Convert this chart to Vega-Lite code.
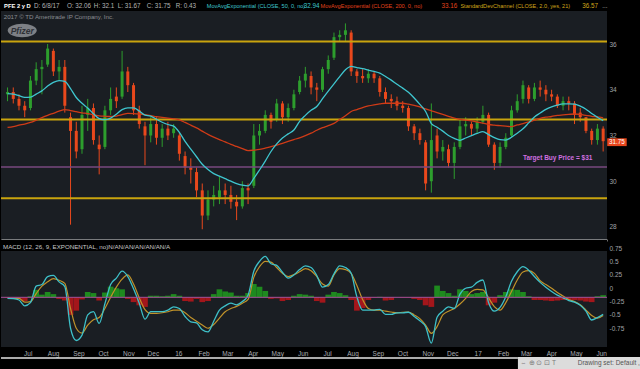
{
"$schema":"https://vega.github.io/schema/vega-lite/v6.json",
"background":"#000000",
"padding":0,
"autosize":{"type":"pad"},
"spacing":0,
"bounds":"flush",
"config":{"view":{"stroke":null},"font":"Liberation Sans","axis":{"labelFont":"Liberation Sans","labelOverlap":false},"text":{"font":"Liberation Sans"},"scale":{"continuousPadding":0}},
"resolve":{"scale":{"x":"independent","y":"independent"}},
"datasets":{
"header":[
{"d":"2015-06-05T17:00:00Z","t":"PFE 2 y D","g":"sym"},
{"d":"2015-07-12T07:00:00Z","t":"D: 6/8/17","g":"info"},
{"d":"2015-08-21T14:00:00Z","t":"O: 32.06","g":"info"},
{"d":"2015-09-23T12:00:00Z","t":"H: 32.1","g":"info"},
{"d":"2015-10-22T19:00:00Z","t":"L: 31.67","g":"info"},
{"d":"2015-11-27T05:00:00Z","t":"C: 31.75","g":"info"},
{"d":"2016-01-01T14:00:00Z","t":"R: 0.43","g":"info"},
{"d":"2016-02-08T12:00:00Z","t":"MovAvgExponential (CLOSE, 50, 0, no)","g":"ema50","long":true},
{"d":"2016-06-05T22:00:00Z","t":"32.94","g":"ema50"},
{"d":"2016-06-26T14:00:00Z","t":"MovAvgExponential (CLOSE, 200, 0, no)","g":"ema200","long":true},
{"d":"2016-11-21T07:00:00Z","t":"33.16","g":"ema200"},
{"d":"2016-12-14T12:00:00Z","t":"StandardDevChannel (CLOSE, 2.0, yes, 21)","g":"sdc","long":true},
{"d":"2017-05-12T10:00:00Z","t":"36.57","g":"sdc"},
{"d":"2017-06-05T22:00:00Z","t":"...","g":"info"}
],
"levels":[{"v":36.11},{"v":32.7},{"v":29.26}],
"target":[{"v":30.62}],
"notes":[{"d":"2017-03-01T00:00:00Z","p":31,"t":"Target Buy Price = $31"}],
"copyright":[{"d":"2015-06-05T07:00:00Z","p":37.17,"t":"2017 © TD Ameritrade IP Company, Inc."}],
"logo":[{"d":"2015-06-27T22:00:00Z","p":36.59,"t":"Pfizer"}],
"last":[{"d":"2017-06-08T00:00:00Z","p":31.75,"t":"31.75"}],
"macdTitle":[{"d":"2015-06-04T12:00:00Z","t":"MACD (12, 26, 9, EXPONENTIAL, no)N/AN/AN/AN/AN/AN/A"}],
"zero":[{"z":0}],
"footer":[{"t":"Drawing set: Default ,","i":"⇔  ⊕  ⊙  ⊡   T"}],
"pfe":[
{"d":"2015-06-10","o":33.8,"h":34.1,"l":33.5,"c":33.9,"e50":33.83,"e200":32.35,"m":-0.02,"s":-0.01,"hd":-0.01},
{"d":"2015-06-17","o":33.9,"h":34.1,"l":33.4,"c":33.6,"e50":33.81,"e200":32.39,"m":-0.025,"s":-0.02,"hd":-0.01},
{"d":"2015-06-24","o":33.6,"h":33.8,"l":33.1,"c":33.3,"e50":33.74,"e200":32.45,"m":-0.05,"s":-0.02,"hd":-0.03},
{"d":"2015-07-01","o":33.3,"h":33.5,"l":32.8,"c":33.1,"e50":33.67,"e200":32.5,"m":-0.16,"s":-0.09,"hd":-0.07},
{"d":"2015-07-08","o":33.2,"h":34.6,"l":33.1,"c":34.4,"e50":33.68,"e200":32.57,"m":-0.1,"s":-0.08,"hd":0.02},
{"d":"2015-07-15","o":34.4,"h":35.2,"l":34.2,"c":34.9,"e50":33.81,"e200":32.67,"m":0.21,"s":0.07,"hd":0.14},
{"d":"2015-07-22","o":34.9,"h":35.3,"l":33.8,"c":35.0,"e50":33.95,"e200":32.78,"m":0.24,"s":0.21,"hd":0.05},
{"d":"2015-07-29","o":35.1,"h":36.0,"l":35.0,"c":35.8,"e50":34.16,"e200":32.88,"m":0.39,"s":0.29,"hd":0.1},
{"d":"2015-08-05","o":35.7,"h":35.8,"l":34.6,"c":34.8,"e50":34.32,"e200":32.97,"m":0.41,"s":0.35,"hd":0.06},
{"d":"2015-08-12","o":34.8,"h":35.3,"l":34.4,"c":35.0,"e50":34.4,"e200":33.06,"m":0.29,"s":0.32,"hd":-0.03},
{"d":"2015-08-19","o":35.0,"h":35.3,"l":33.0,"c":33.3,"e50":34.37,"e200":33.13,"m":0.2,"s":0.26,"hd":-0.06},
{"d":"2015-08-26","o":32.8,"h":33.0,"l":28.1,"c":32.2,"e50":34.05,"e200":33.09,"m":-0.58,"s":-0.21,"hd":-0.33},
{"d":"2015-09-02","o":32.2,"h":32.6,"l":31.0,"c":31.3,"e50":33.66,"e200":33.04,"m":-0.81,"s":-0.58,"hd":-0.25},
{"d":"2015-09-09","o":31.4,"h":33.3,"l":31.2,"c":32.9,"e50":33.41,"e200":32.99,"m":-0.71,"s":-0.67,"hd":-0.04},
{"d":"2015-09-16","o":32.9,"h":33.6,"l":32.2,"c":33.2,"e50":33.2,"e200":32.96,"m":-0.33,"s":-0.52,"hd":0.1},
{"d":"2015-09-23","o":33.2,"h":33.4,"l":31.6,"c":31.8,"e50":32.95,"e200":32.91,"m":-0.27,"s":-0.42,"hd":0.08},
{"d":"2015-09-30","o":31.6,"h":32.0,"l":30.3,"c":31.4,"e50":32.74,"e200":32.86,"m":-0.49,"s":-0.38,"hd":-0.06},
{"d":"2015-10-07","o":31.5,"h":33.3,"l":31.4,"c":33.1,"e50":32.69,"e200":32.84,"m":-0.12,"s":-0.21,"hd":0.09},
{"d":"2015-10-14","o":33.1,"h":34.1,"l":32.9,"c":33.6,"e50":32.76,"e200":32.83,"m":0.24,"s":0.0,"hd":0.2},
{"d":"2015-10-21","o":33.7,"h":34.1,"l":33.2,"c":33.5,"e50":32.93,"e200":32.85,"m":0.36,"s":0.19,"hd":0.17},
{"d":"2015-10-28","o":33.7,"h":35.7,"l":33.6,"c":34.8,"e50":33.13,"e200":32.91,"m":0.49,"s":0.34,"hd":0.15},
{"d":"2015-11-04","o":34.8,"h":35.0,"l":33.9,"c":34.2,"e50":33.21,"e200":32.97,"m":0.39,"s":0.42,"hd":-0.03},
{"d":"2015-11-11","o":34.2,"h":34.3,"l":32.9,"c":33.1,"e50":33.21,"e200":32.96,"m":0.16,"s":0.25,"hd":-0.09},
{"d":"2015-11-18","o":33.1,"h":33.3,"l":32.3,"c":32.5,"e50":33.07,"e200":32.94,"m":-0.11,"s":-0.01,"hd":-0.15},
{"d":"2015-11-25","o":32.4,"h":32.6,"l":30.7,"c":32.0,"e50":32.89,"e200":32.91,"m":-0.41,"s":-0.23,"hd":-0.18},
{"d":"2015-12-02","o":32.0,"h":32.8,"l":31.7,"c":32.5,"e50":32.85,"e200":32.87,"m":-0.27,"s":-0.3,"hd":0.03},
{"d":"2015-12-09","o":32.5,"h":32.8,"l":31.6,"c":31.9,"e50":32.71,"e200":32.82,"m":-0.27,"s":-0.3,"hd":0.03},
{"d":"2015-12-16","o":31.9,"h":32.5,"l":31.5,"c":32.3,"e50":32.58,"e200":32.79,"m":-0.27,"s":-0.29,"hd":0.02},
{"d":"2015-12-23","o":32.3,"h":32.6,"l":31.8,"c":32.0,"e50":32.48,"e200":32.76,"m":-0.24,"s":-0.27,"hd":0.03},
{"d":"2015-12-30","o":32.1,"h":32.5,"l":31.9,"c":32.3,"e50":32.41,"e200":32.73,"m":-0.18,"s":-0.24,"hd":0.06},
{"d":"2016-01-06","o":32.0,"h":32.1,"l":30.9,"c":31.2,"e50":32.14,"e200":32.68,"m":-0.21,"s":-0.24,"hd":0.03},
{"d":"2016-01-13","o":31.1,"h":31.3,"l":30.3,"c":30.6,"e50":31.74,"e200":32.57,"m":-0.36,"s":-0.29,"hd":-0.07},
{"d":"2016-01-20","o":30.6,"h":31.0,"l":29.9,"c":30.5,"e50":31.4,"e200":32.45,"m":-0.46,"s":-0.38,"hd":-0.08},
{"d":"2016-01-27","o":30.4,"h":30.6,"l":29.3,"c":29.6,"e50":31.07,"e200":32.33,"m":-0.48,"s":-0.45,"hd":-0.03},
{"d":"2016-02-03","o":29.6,"h":29.9,"l":27.9,"c":28.5,"e50":30.74,"e200":32.19,"m":-0.61,"s":-0.52,"hd":-0.09},
{"d":"2016-02-10","o":28.5,"h":29.6,"l":28.3,"c":29.2,"e50":30.51,"e200":32.05,"m":-0.65,"s":-0.58,"hd":-0.07},
{"d":"2016-02-17","o":29.2,"h":29.8,"l":28.9,"c":29.4,"e50":30.33,"e200":31.93,"m":-0.45,"s":-0.51,"hd":0.06},
{"d":"2016-02-24","o":29.3,"h":30.2,"l":29.0,"c":29.6,"e50":30.22,"e200":31.82,"m":-0.24,"s":-0.39,"hd":0.15},
{"d":"2016-03-02","o":29.6,"h":29.9,"l":29.0,"c":29.4,"e50":30.11,"e200":31.72,"m":-0.16,"s":-0.27,"hd":0.11},
{"d":"2016-03-09","o":29.4,"h":29.8,"l":28.8,"c":29.1,"e50":30.0,"e200":31.61,"m":-0.11,"s":-0.21,"hd":0.09},
{"d":"2016-03-16","o":29.1,"h":29.4,"l":28.3,"c":28.9,"e50":29.9,"e200":31.52,"m":-0.14,"s":-0.17,"hd":0.03},
{"d":"2016-03-23","o":28.9,"h":30.0,"l":28.8,"c":29.7,"e50":29.83,"e200":31.43,"m":-0.08,"s":-0.11,"hd":0.03},
{"d":"2016-03-30","o":29.7,"h":29.9,"l":29.0,"c":29.6,"e50":29.8,"e200":31.34,"m":0.04,"s":-0.04,"hd":0.08},
{"d":"2016-04-06","o":29.8,"h":32.5,"l":29.7,"c":32.0,"e50":30.12,"e200":31.36,"m":0.49,"s":0.375,"hd":0.25},
{"d":"2016-04-13","o":32.0,"h":32.5,"l":31.6,"c":32.2,"e50":30.49,"e200":31.39,"m":0.675,"s":0.575,"hd":0.2},
{"d":"2016-04-20","o":32.2,"h":33.1,"l":32.1,"c":32.9,"e50":30.88,"e200":31.45,"m":0.77,"s":0.675,"hd":0.12},
{"d":"2016-04-27","o":32.9,"h":33.0,"l":32.3,"c":32.6,"e50":31.3,"e200":31.51,"m":0.63,"s":0.66,"hd":-0.03},
{"d":"2016-05-04","o":32.7,"h":33.6,"l":32.6,"c":33.4,"e50":31.63,"e200":31.58,"m":0.6,"s":0.56,"hd":-0.02},
{"d":"2016-05-11","o":33.4,"h":33.5,"l":32.5,"c":32.8,"e50":31.89,"e200":31.66,"m":0.47,"s":0.45,"hd":-0.07},
{"d":"2016-05-18","o":32.8,"h":33.4,"l":32.6,"c":33.2,"e50":32.07,"e200":31.74,"m":0.36,"s":0.39,"hd":-0.05},
{"d":"2016-05-25","o":33.2,"h":34.0,"l":33.1,"c":33.8,"e50":32.24,"e200":31.82,"m":0.42,"s":0.425,"hd":0.03},
{"d":"2016-06-01","o":33.9,"h":34.6,"l":33.8,"c":34.4,"e50":32.62,"e200":31.9,"m":0.52,"s":0.48,"hd":0.06},
{"d":"2016-06-08","o":34.4,"h":35.0,"l":34.1,"c":34.7,"e50":32.88,"e200":31.99,"m":0.59,"s":0.54,"hd":0.05},
{"d":"2016-06-15","o":34.6,"h":34.8,"l":33.8,"c":34.1,"e50":33.1,"e200":32.1,"m":0.56,"s":0.5,"hd":0.03},
{"d":"2016-06-22","o":34.1,"h":34.3,"l":33.5,"c":34.0,"e50":33.27,"e200":32.23,"m":0.41,"s":0.39,"hd":-0.07},
{"d":"2016-06-29","o":34.0,"h":35.0,"l":33.9,"c":34.9,"e50":33.61,"e200":32.34,"m":0.19,"s":0.25,"hd":-0.1},
{"d":"2016-07-06","o":34.9,"h":35.5,"l":34.7,"c":35.3,"e50":33.94,"e200":32.43,"m":0.24,"s":0.21,"hd":0.05},
{"d":"2016-07-13","o":35.4,"h":36.5,"l":35.3,"c":36.3,"e50":34.26,"e200":32.53,"m":0.44,"s":0.42,"hd":0.1},
{"d":"2016-07-20","o":36.3,"h":36.6,"l":36.1,"c":36.4,"e50":34.57,"e200":32.7,"m":0.59,"s":0.54,"hd":0.08},
{"d":"2016-07-27","o":36.4,"h":36.9,"l":36.1,"c":36.6,"e50":34.87,"e200":32.86,"m":0.56,"s":0.52,"hd":0.04},
{"d":"2016-08-03","o":36.5,"h":36.6,"l":34.6,"c":34.8,"e50":35.02,"e200":33.05,"m":0.45,"s":0.45,"hd":-0.05},
{"d":"2016-08-10","o":34.8,"h":34.9,"l":34.3,"c":34.6,"e50":34.97,"e200":33.13,"m":0.01,"s":0.22,"hd":-0.25},
{"d":"2016-08-17","o":34.6,"h":34.9,"l":34.3,"c":34.5,"e50":34.92,"e200":33.22,"m":-0.24,"s":-0.04,"hd":-0.2},
{"d":"2016-08-24","o":34.5,"h":34.9,"l":34.3,"c":34.7,"e50":34.86,"e200":33.29,"m":-0.24,"s":-0.21,"hd":-0.05},
{"d":"2016-08-31","o":34.7,"h":34.8,"l":34.3,"c":34.5,"e50":34.8,"e200":33.34,"m":-0.24,"s":-0.24,"hd":-0.01},
{"d":"2016-09-07","o":34.5,"h":34.6,"l":33.7,"c":33.9,"e50":34.73,"e200":33.38,"m":-0.225,"s":-0.24,"hd":0.01},
{"d":"2016-09-14","o":33.9,"h":34.1,"l":33.4,"c":33.6,"e50":34.58,"e200":33.41,"m":-0.32,"s":-0.26,"hd":-0.06},
{"d":"2016-09-21","o":33.6,"h":33.8,"l":33.2,"c":33.5,"e50":34.42,"e200":33.41,"m":-0.32,"s":-0.275,"hd":-0.05},
{"d":"2016-09-28","o":33.5,"h":33.7,"l":33.1,"c":33.3,"e50":34.24,"e200":33.41,"m":-0.29,"s":-0.29,"hd":0.0},
{"d":"2016-10-05","o":33.3,"h":33.5,"l":33.0,"c":33.2,"e50":34.07,"e200":33.41,"m":-0.29,"s":-0.28,"hd":-0.01},
{"d":"2016-10-12","o":33.2,"h":33.3,"l":32.2,"c":32.4,"e50":33.89,"e200":33.37,"m":-0.28,"s":-0.275,"hd":-0.01},
{"d":"2016-10-19","o":32.4,"h":32.5,"l":31.8,"c":32.1,"e50":33.64,"e200":33.32,"m":-0.36,"s":-0.33,"hd":-0.03},
{"d":"2016-10-26","o":32.1,"h":32.3,"l":31.6,"c":31.8,"e50":33.36,"e200":33.25,"m":-0.44,"s":-0.4,"hd":-0.05},
{"d":"2016-11-02","o":31.7,"h":31.8,"l":29.6,"c":29.9,"e50":33.05,"e200":33.16,"m":-0.55,"s":-0.52,"hd":-0.15},
{"d":"2016-11-09","o":30.0,"h":33.4,"l":29.5,"c":31.8,"e50":32.52,"e200":33.08,"m":-0.86,"s":-0.675,"hd":-0.18},
{"d":"2016-11-16","o":32.0,"h":32.3,"l":31.0,"c":31.3,"e50":32.36,"e200":33.0,"m":-0.375,"s":-0.55,"hd":0.22},
{"d":"2016-11-23","o":31.3,"h":31.8,"l":30.9,"c":31.5,"e50":32.19,"e200":32.92,"m":-0.26,"s":-0.33,"hd":0.12},
{"d":"2016-11-30","o":31.4,"h":31.6,"l":30.6,"c":30.8,"e50":32.0,"e200":32.84,"m":-0.18,"s":-0.26,"hd":0.08},
{"d":"2016-12-07","o":30.8,"h":31.7,"l":30.1,"c":31.5,"e50":31.87,"e200":32.76,"m":-0.21,"s":-0.21,"hd":0.03},
{"d":"2016-12-14","o":31.5,"h":32.7,"l":31.4,"c":32.4,"e50":31.79,"e200":32.7,"m":0.06,"s":-0.125,"hd":0.15},
{"d":"2016-12-21","o":32.4,"h":32.8,"l":32.0,"c":32.5,"e50":31.89,"e200":32.67,"m":0.17,"s":-0.02,"hd":0.12},
{"d":"2016-12-28","o":32.5,"h":32.6,"l":32.0,"c":32.3,"e50":31.99,"e200":32.64,"m":0.19,"s":0.11,"hd":0.06},
{"d":"2017-01-04","o":32.3,"h":32.8,"l":32.1,"c":32.6,"e50":32.09,"e200":32.59,"m":0.28,"s":0.15,"hd":0.08},
{"d":"2017-01-11","o":32.6,"h":33.3,"l":32.5,"c":32.9,"e50":32.17,"e200":32.54,"m":0.325,"s":0.14,"hd":0.1},
{"d":"2017-01-18","o":32.9,"h":33.0,"l":31.5,"c":31.6,"e50":32.04,"e200":32.48,"m":-0.1,"s":-0.01,"hd":-0.15},
{"d":"2017-01-25","o":31.6,"h":31.7,"l":30.5,"c":30.8,"e50":31.91,"e200":32.45,"m":-0.26,"s":-0.175,"hd":-0.1},
{"d":"2017-02-01","o":30.8,"h":31.7,"l":30.6,"c":31.5,"e50":31.82,"e200":32.43,"m":-0.19,"s":-0.24,"hd":0.04},
{"d":"2017-02-08","o":31.5,"h":32.1,"l":31.4,"c":31.9,"e50":31.8,"e200":32.41,"m":0.01,"s":-0.1,"hd":0.1},
{"d":"2017-02-15","o":32.0,"h":33.3,"l":31.9,"c":33.1,"e50":31.92,"e200":32.39,"m":0.3,"s":0.11,"hd":0.15},
{"d":"2017-02-22","o":33.1,"h":33.8,"l":33.0,"c":33.5,"e50":32.1,"e200":32.46,"m":0.48,"s":0.325,"hd":0.14},
{"d":"2017-03-01","o":33.6,"h":34.4,"l":33.4,"c":34.2,"e50":32.29,"e200":32.52,"m":0.575,"s":0.475,"hd":0.1},
{"d":"2017-03-08","o":34.1,"h":34.2,"l":33.4,"c":33.6,"e50":32.55,"e200":32.59,"m":0.51,"s":0.5,"hd":0.02},
{"d":"2017-03-15","o":33.6,"h":34.3,"l":33.5,"c":34.1,"e50":32.81,"e200":32.67,"m":0.39,"s":0.45,"hd":-0.05},
{"d":"2017-03-22","o":34.1,"h":34.4,"l":33.7,"c":34.0,"e50":32.98,"e200":32.75,"m":0.28,"s":0.31,"hd":-0.05},
{"d":"2017-03-29","o":34.0,"h":34.2,"l":33.5,"c":33.8,"e50":33.14,"e200":32.8,"m":0.19,"s":0.24,"hd":-0.06},
{"d":"2017-04-05","o":33.8,"h":34.0,"l":33.5,"c":33.7,"e50":33.25,"e200":32.83,"m":0.11,"s":0.17,"hd":-0.07},
{"d":"2017-04-12","o":33.7,"h":33.8,"l":33.2,"c":33.3,"e50":33.33,"e200":32.88,"m":0.04,"s":0.09,"hd":-0.06},
{"d":"2017-04-19","o":33.3,"h":33.7,"l":33.1,"c":33.5,"e50":33.38,"e200":32.9,"m":-0.01,"s":0.025,"hd":-0.05},
{"d":"2017-04-26","o":33.5,"h":33.7,"l":33.1,"c":33.4,"e50":33.38,"e200":32.92,"m":-0.06,"s":-0.04,"hd":-0.05},
{"d":"2017-05-03","o":33.4,"h":33.5,"l":32.5,"c":32.9,"e50":33.37,"e200":32.94,"m":-0.09,"s":-0.08,"hd":-0.05},
{"d":"2017-05-10","o":33.0,"h":33.2,"l":32.6,"c":32.8,"e50":33.28,"e200":32.92,"m":-0.15,"s":-0.14,"hd":-0.06},
{"d":"2017-05-17","o":32.8,"h":32.8,"l":32.1,"c":32.2,"e50":33.15,"e200":32.88,"m":-0.26,"s":-0.24,"hd":-0.08},
{"d":"2017-05-24","o":32.2,"h":32.3,"l":31.6,"c":31.8,"e50":32.96,"e200":32.84,"m":-0.425,"s":-0.34,"hd":-0.09},
{"d":"2017-05-31","o":31.8,"h":32.5,"l":31.6,"c":32.3,"e50":32.8,"e200":32.81,"m":-0.38,"s":-0.39,"hd":0.02},
{"d":"2017-06-07","o":32.3,"h":32.4,"l":31.3,"c":31.75,"e50":32.65,"e200":32.77,"m":-0.32,"s":-0.34,"hd":0.04}
]
},
"vconcat":[
{
"width":606,"height":11,
"view":{"fill":"#000000","stroke":null},
"data":{"name":"header"},
"encoding":{"x":{"field":"d","type":"temporal","scale":{"domain":[{"year":2015,"month":6,"date":2,"utc":true},{"year":2017,"month":6,"date":11,"hours":17,"utc":true}]},"axis":null},"text":{"field":"t"}},
"layer":[
{"transform":[{"filter":"datum.g == 'sym'"}],"mark":{"type":"text","align":"left","baseline":"middle","fontSize":5.8,"fontWeight":"bold","color":"#ffffff"}},
{"transform":[{"filter":"datum.g != 'sym' && !datum.long"}],"mark":{"type":"text","align":"left","baseline":"middle","fontSize":6.3},
 "encoding":{"color":{"field":"g","type":"nominal","legend":null,"scale":{"domain":["info","ema50","ema200","sdc"],"range":["#b4b4b4","#3fc6cf","#e0441c","#d2a61a"]}}}},
{"transform":[{"filter":"datum.long"}],"mark":{"type":"text","align":"left","baseline":"middle","fontSize":5.6},
 "encoding":{"color":{"field":"g","type":"nominal","legend":null,"scale":{"domain":["info","ema50","ema200","sdc"],"range":["#b4b4b4","#3fc6cf","#e0441c","#d2a61a"]}}}}
]
},
{
"width":606,"height":229,
"view":{"fill":"#1a1e23","stroke":null},
"layer":[
{"data":{"name":"pfe"},"mark":{"type":"rule","strokeWidth":1},
 "encoding":{
  "x":{"field":"d","type":"temporal","scale":{"padding":0,"domain":[{"year":2015,"month":6,"date":2,"utc":true},{"year":2017,"month":6,"date":11,"hours":17,"utc":true}]},"axis":{"labels":false,"ticks":false,"grid":false,"domain":true,"domainColor":"#d8d8d8","domainWidth":2,"title":null}},
  "y":{"field":"l","type":"quantitative","scale":{"padding":0,"domain":[27.43,37.443],"nice":false,"zero":false},"axis":{"orient":"right","values":[28,30,32,34,36],"ticks":false,"domain":false,"grid":false,"labelColor":"#a0a3a8","labelFontSize":6.5,"labelPadding":2,"title":null,"labelFlush":false}},
  "y2":{"field":"h"},
  "color":{"condition":{"test":"datum.c >= datum.o","value":"#2d9e2d"},"value":"#e9481c"}}},
{"data":{"name":"pfe"},"mark":{"type":"bar","size":3},
 "encoding":{
  "x":{"field":"d","type":"temporal"},
  "y":{"field":"o","type":"quantitative"},
  "y2":{"field":"c"},
  "color":{"condition":{"test":"datum.c >= datum.o","value":"#2d9e2d"},"value":"#e9481c"}}},
{"data":{"name":"levels"},"mark":{"type":"rule","color":"#c9a40e","strokeWidth":2},
 "encoding":{"y":{"field":"v","type":"quantitative"}}},
{"data":{"name":"target"},"mark":{"type":"rule","color":"#78497f","strokeWidth":1.5},
 "encoding":{"y":{"field":"v","type":"quantitative"}}},
{"data":{"name":"pfe"},"mark":{"type":"line","color":"#cf3b17","strokeWidth":1.3,"interpolate":"monotone"},
 "encoding":{"x":{"field":"d","type":"temporal"},"y":{"field":"e200","type":"quantitative"}}},
{"data":{"name":"pfe"},"mark":{"type":"line","color":"#3fc6cf","strokeWidth":1.3,"interpolate":"monotone"},
 "encoding":{"x":{"field":"d","type":"temporal"},"y":{"field":"e50","type":"quantitative"}}},
{"data":{"name":"notes"},"mark":{"type":"text","align":"left","baseline":"middle","fontSize":6.5,"fontWeight":"bold","color":"#d070e0"},
 "encoding":{"x":{"field":"d","type":"temporal"},"y":{"field":"p","type":"quantitative"},"text":{"field":"t"}}},
{"data":{"name":"copyright"},"mark":{"type":"text","align":"left","baseline":"middle","fontSize":6.2,"color":"#8a8d92"},
 "encoding":{"x":{"field":"d","type":"temporal"},"y":{"field":"p","type":"quantitative"},"text":{"field":"t"}}},
{"data":{"name":"logo"},"mark":{"type":"point","shape":"M-1,0A1,0.46,0,1,1,1,0A1,0.46,0,1,1,-1,0Z","size":841,"filled":true,"color":"#7d8085","opacity":1},
 "encoding":{"x":{"field":"d","type":"temporal"},"y":{"field":"p","type":"quantitative"}}},
{"data":{"name":"logo"},"mark":{"type":"text","align":"center","baseline":"middle","fontSize":8.5,"fontStyle":"italic","fontWeight":"bold","color":"#2e3136"},
 "encoding":{"x":{"field":"d","type":"temporal"},"y":{"field":"p","type":"quantitative"},"text":{"field":"t"}}},
{"data":{"name":"last"},"mark":{"type":"point","shape":"M-1,-0.4H1V0.4H-1Z","size":380,"filled":true,"color":"#e8461c","opacity":1,"xOffset":13,"yOffset":1},
 "encoding":{"x":{"field":"d","type":"temporal"},"y":{"field":"p","type":"quantitative"}}},
{"data":{"name":"last"},"mark":{"type":"text","align":"center","baseline":"middle","fontSize":6.3,"color":"#ffffff","dx":13,"dy":1},
 "encoding":{"x":{"field":"d","type":"temporal"},"y":{"field":"p","type":"quantitative"},"text":{"field":"t"}}}
]
},
{
"width":606,"height":11,
"view":{"fill":"#000000","stroke":null},
"data":{"name":"macdTitle"},
"mark":{"type":"text","align":"left","baseline":"middle","fontSize":6.2,"color":"#c8c8c8","dy":1.5},
"encoding":{"x":{"field":"d","type":"temporal","scale":{"domain":[{"year":2015,"month":6,"date":2,"utc":true},{"year":2017,"month":6,"date":11,"hours":17,"utc":true}]},"axis":null},"text":{"field":"t"}}
},
{
"width":606,"height":96,
"view":{"fill":"#1a1e23","stroke":null},
"encoding":{
  "x":{"field":"d","type":"temporal","scale":{"padding":0,"domain":[{"year":2015,"month":6,"date":2,"utc":true},{"year":2017,"month":6,"date":11,"hours":17,"utc":true}]},
   "axis":{"orient":"bottom","tickCount":{"interval":"month","step":1},"labelExpr":"month(datum.value) == 0 ? timeFormat(datum.value, '%y') : timeFormat(datum.value, '%b')","ticks":false,"domain":false,"grid":false,"labelColor":"#a8abb0","labelFontSize":6.5,"labelPadding":3,"labelOffset":3,"labelOverlap":false,"labelFlush":false,"title":null}}
},
"layer":[
{"data":{"name":"pfe"},"mark":{"type":"bar","size":5.7},
 "encoding":{
  "y":{"field":"hd","type":"quantitative","scale":{"padding":0,"domain":[-0.932,0.869],"nice":false,"zero":false},
   "axis":{"orient":"right","values":[-0.75,-0.5,-0.25,0,0.25,0.5,0.75],"labelExpr":"'' + datum.value","labelOffset":-9,"ticks":false,"domain":false,"grid":false,"labelColor":"#a0a3a8","labelFontSize":6.5,"labelPadding":2,"labelFlush":false,"labelOverlap":false,"labelBound":false,"title":null}},
  "y2":{"datum":0},
  "color":{"condition":{"test":"datum.hd >= 0","value":"#1e8a1e"},"value":"#a3161b"}}},
{"data":{"name":"pfe"},"mark":{"type":"line","color":"#c0922a","strokeWidth":1.2,"interpolate":"monotone"},
 "encoding":{"y":{"field":"s","type":"quantitative",
   "axis":{"orient":"right","values":[-0.75,-0.5,-0.25,0,0.25,0.5,0.75],"labelExpr":"'' + datum.value","labelOffset":-9,"ticks":false,"domain":false,"grid":false,"labelColor":"#a0a3a8","labelFontSize":6.5,"labelPadding":2,"labelFlush":false,"labelOverlap":false,"labelBound":false,"title":null}}}},
{"data":{"name":"pfe"},"mark":{"type":"line","color":"#3ec0c8","strokeWidth":1.3,"interpolate":"monotone"},
 "encoding":{"y":{"field":"m","type":"quantitative",
   "axis":{"orient":"right","values":[-0.75,-0.5,-0.25,0,0.25,0.5,0.75],"labelExpr":"'' + datum.value","labelOffset":-9,"ticks":false,"domain":false,"grid":false,"labelColor":"#a0a3a8","labelFontSize":6.5,"labelPadding":2,"labelFlush":false,"labelOverlap":false,"labelBound":false,"title":null}}}},
{"data":{"name":"zero"},"mark":{"type":"rule","color":"#a4529a","strokeWidth":1},
 "encoding":{"x":null,"y":{"field":"z","type":"quantitative",
   "axis":{"orient":"right","values":[-0.75,-0.5,-0.25,0,0.25,0.5,0.75],"labelExpr":"'' + datum.value","labelOffset":-9,"ticks":false,"domain":false,"grid":false,"labelColor":"#a0a3a8","labelFontSize":6.5,"labelPadding":2,"labelFlush":false,"labelOverlap":false,"labelBound":false,"title":null}}}}
]
},
{
"width":640,"height":22,
"data":{"name":"footer"},
"layer":[
{"mark":{"type":"rule","color":"#e4e4e4","strokeWidth":1.5},
 "encoding":{"x":{"datum":{"year":2015,"month":6,"date":2,"utc":true},"type":"temporal","scale":{"domain":[{"year":2015,"month":6,"date":2,"utc":true},{"year":2017,"month":7,"date":22,"hours":6,"utc":true}]},"axis":null},
  "x2":{"datum":{"year":2017,"month":2,"date":22,"utc":true}},
  "y":{"datum":0.5,"type":"quantitative","scale":{"domain":[0,1]},"axis":null}}},
{"mark":{"type":"rect","color":"#dcdcdc"},
 "encoding":{"x":{"datum":{"year":2017,"month":2,"date":22,"utc":true},"type":"temporal"},
  "x2":{"datum":{"year":2017,"month":7,"date":22,"hours":6,"utc":true}},
  "y":{"datum":0,"type":"quantitative"},"y2":{"datum":0.55}}},
{"mark":{"type":"text","align":"left","baseline":"middle","fontSize":6.5,"color":"#7a7a7a"},
 "encoding":{"x":{"datum":{"year":2017,"month":2,"date":25,"utc":true},"type":"temporal"},"y":{"datum":0.27,"type":"quantitative"},"text":{"field":"i"}}},
{"mark":{"type":"text","align":"left","baseline":"middle","fontSize":6.5,"color":"#555555"},
 "encoding":{"x":{"datum":{"year":2017,"month":5,"date":6,"utc":true},"type":"temporal"},"y":{"datum":0.27,"type":"quantitative"},"text":{"field":"t"}}}
]
}
]
}
